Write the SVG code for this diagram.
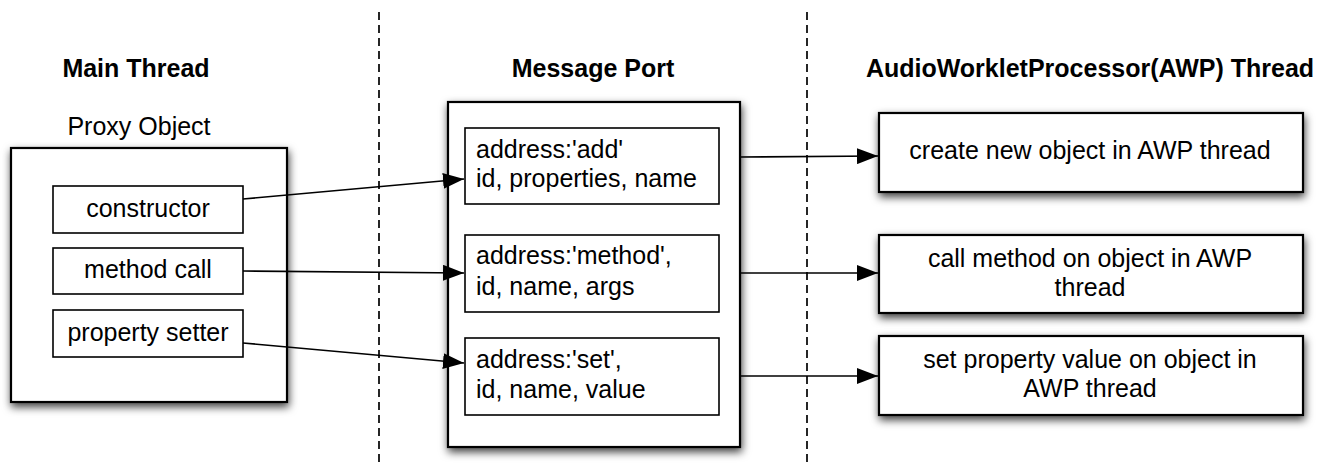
<svg xmlns="http://www.w3.org/2000/svg" width="1332" height="470" viewBox="0 0 1332 470">
<style>
text{font-family:"Liberation Sans",Arial,Helvetica,sans-serif;font-size:25px;fill:#000}
.title{font-weight:bold}
.mid{text-anchor:middle}
.outer{fill:#fff;stroke:#000;stroke-width:2.2}
.inner{fill:#fff;stroke:#000;stroke-width:1.6}
.conn{stroke:#000;stroke-width:1.7;fill:none}
.divider{stroke:#000;stroke-width:1.7;stroke-dasharray:8 5;fill:none}
</style>
<defs>
<filter id="shadow" x="-15%" y="-15%" width="135%" height="140%">
<feDropShadow dx="1" dy="4" stdDeviation="4" flood-color="#000" flood-opacity="0.75"/>
</filter>
<marker id="arrow" markerUnits="userSpaceOnUse" markerWidth="21" markerHeight="16" refX="21" refY="8" orient="auto">
<path d="M0,0 L21,8 L0,16 z" fill="#000"/>
</marker>
</defs>
<rect width="1332" height="470" fill="#fff"/>
<g id="dividers">
<line class="divider" x1="379" y1="12" x2="379" y2="466"/>
<line class="divider" x1="807" y1="12" x2="807" y2="466"/>
</g>
<g id="titles">
<text class="title mid" x="136" y="77">Main Thread</text>
<text class="title mid" x="593" y="77">Message Port</text>
<text class="title mid" x="1090" y="77">AudioWorkletProcessor(AWP) Thread</text>
</g>
<g id="proxy-object">
<text class="mid" x="139" y="135">Proxy Object</text>
<rect class="outer" x="11" y="148" width="276" height="254" filter="url(#shadow)"/>
</g>
<g id="constructor">
<rect class="inner" x="53" y="186" width="190" height="47"/>
<text class="mid" x="148" y="217">constructor</text>
</g>
<g id="method-call">
<rect class="inner" x="53" y="248" width="190" height="46"/>
<text class="mid" x="148" y="278">method call</text>
</g>
<g id="property-setter">
<rect class="inner" x="53" y="310" width="190" height="47"/>
<text class="mid" x="148" y="341">property setter</text>
</g>
<g id="message-port">
<rect class="outer" x="448" y="102" width="292" height="345" filter="url(#shadow)"/>
</g>
<g id="msg-add">
<rect class="inner" x="465" y="128" width="254" height="76"/>
<text x="476" y="158">address:'add'</text>
<text x="476" y="187">id, properties, name</text>
</g>
<g id="msg-method">
<rect class="inner" x="465" y="235" width="254" height="77"/>
<text x="476" y="264">address:'method',</text>
<text x="476" y="295">id, name, args</text>
</g>
<g id="msg-set">
<rect class="inner" x="465" y="338" width="254" height="77"/>
<text x="476" y="368">address:'set',</text>
<text x="476" y="398">id, name, value</text>
</g>
<g id="awp-create">
<rect class="outer" x="879" y="113" width="424" height="79" filter="url(#shadow)"/>
<text class="mid" x="1090" y="159">create new object in AWP thread</text>
</g>
<g id="awp-call">
<rect class="outer" x="879" y="235" width="424" height="78" filter="url(#shadow)"/>
<text class="mid" x="1090" y="267">call method on object in AWP</text>
<text class="mid" x="1090" y="296">thread</text>
</g>
<g id="awp-set">
<rect class="outer" x="879" y="336" width="424" height="79" filter="url(#shadow)"/>
<text class="mid" x="1090" y="368">set property value on object in</text>
<text class="mid" x="1090" y="397">AWP thread</text>
</g>
<g id="connectors">
<line class="conn" x1="243" y1="199" x2="464" y2="179" marker-end="url(#arrow)"/>
<line class="conn" x1="243" y1="271" x2="464" y2="273" marker-end="url(#arrow)"/>
<line class="conn" x1="243" y1="343" x2="464" y2="363" marker-end="url(#arrow)"/>
<line class="conn" x1="740" y1="157" x2="878" y2="156" marker-end="url(#arrow)"/>
<line class="conn" x1="740" y1="273" x2="878" y2="273" marker-end="url(#arrow)"/>
<line class="conn" x1="740" y1="376" x2="878" y2="376" marker-end="url(#arrow)"/>
</g>
</svg>
